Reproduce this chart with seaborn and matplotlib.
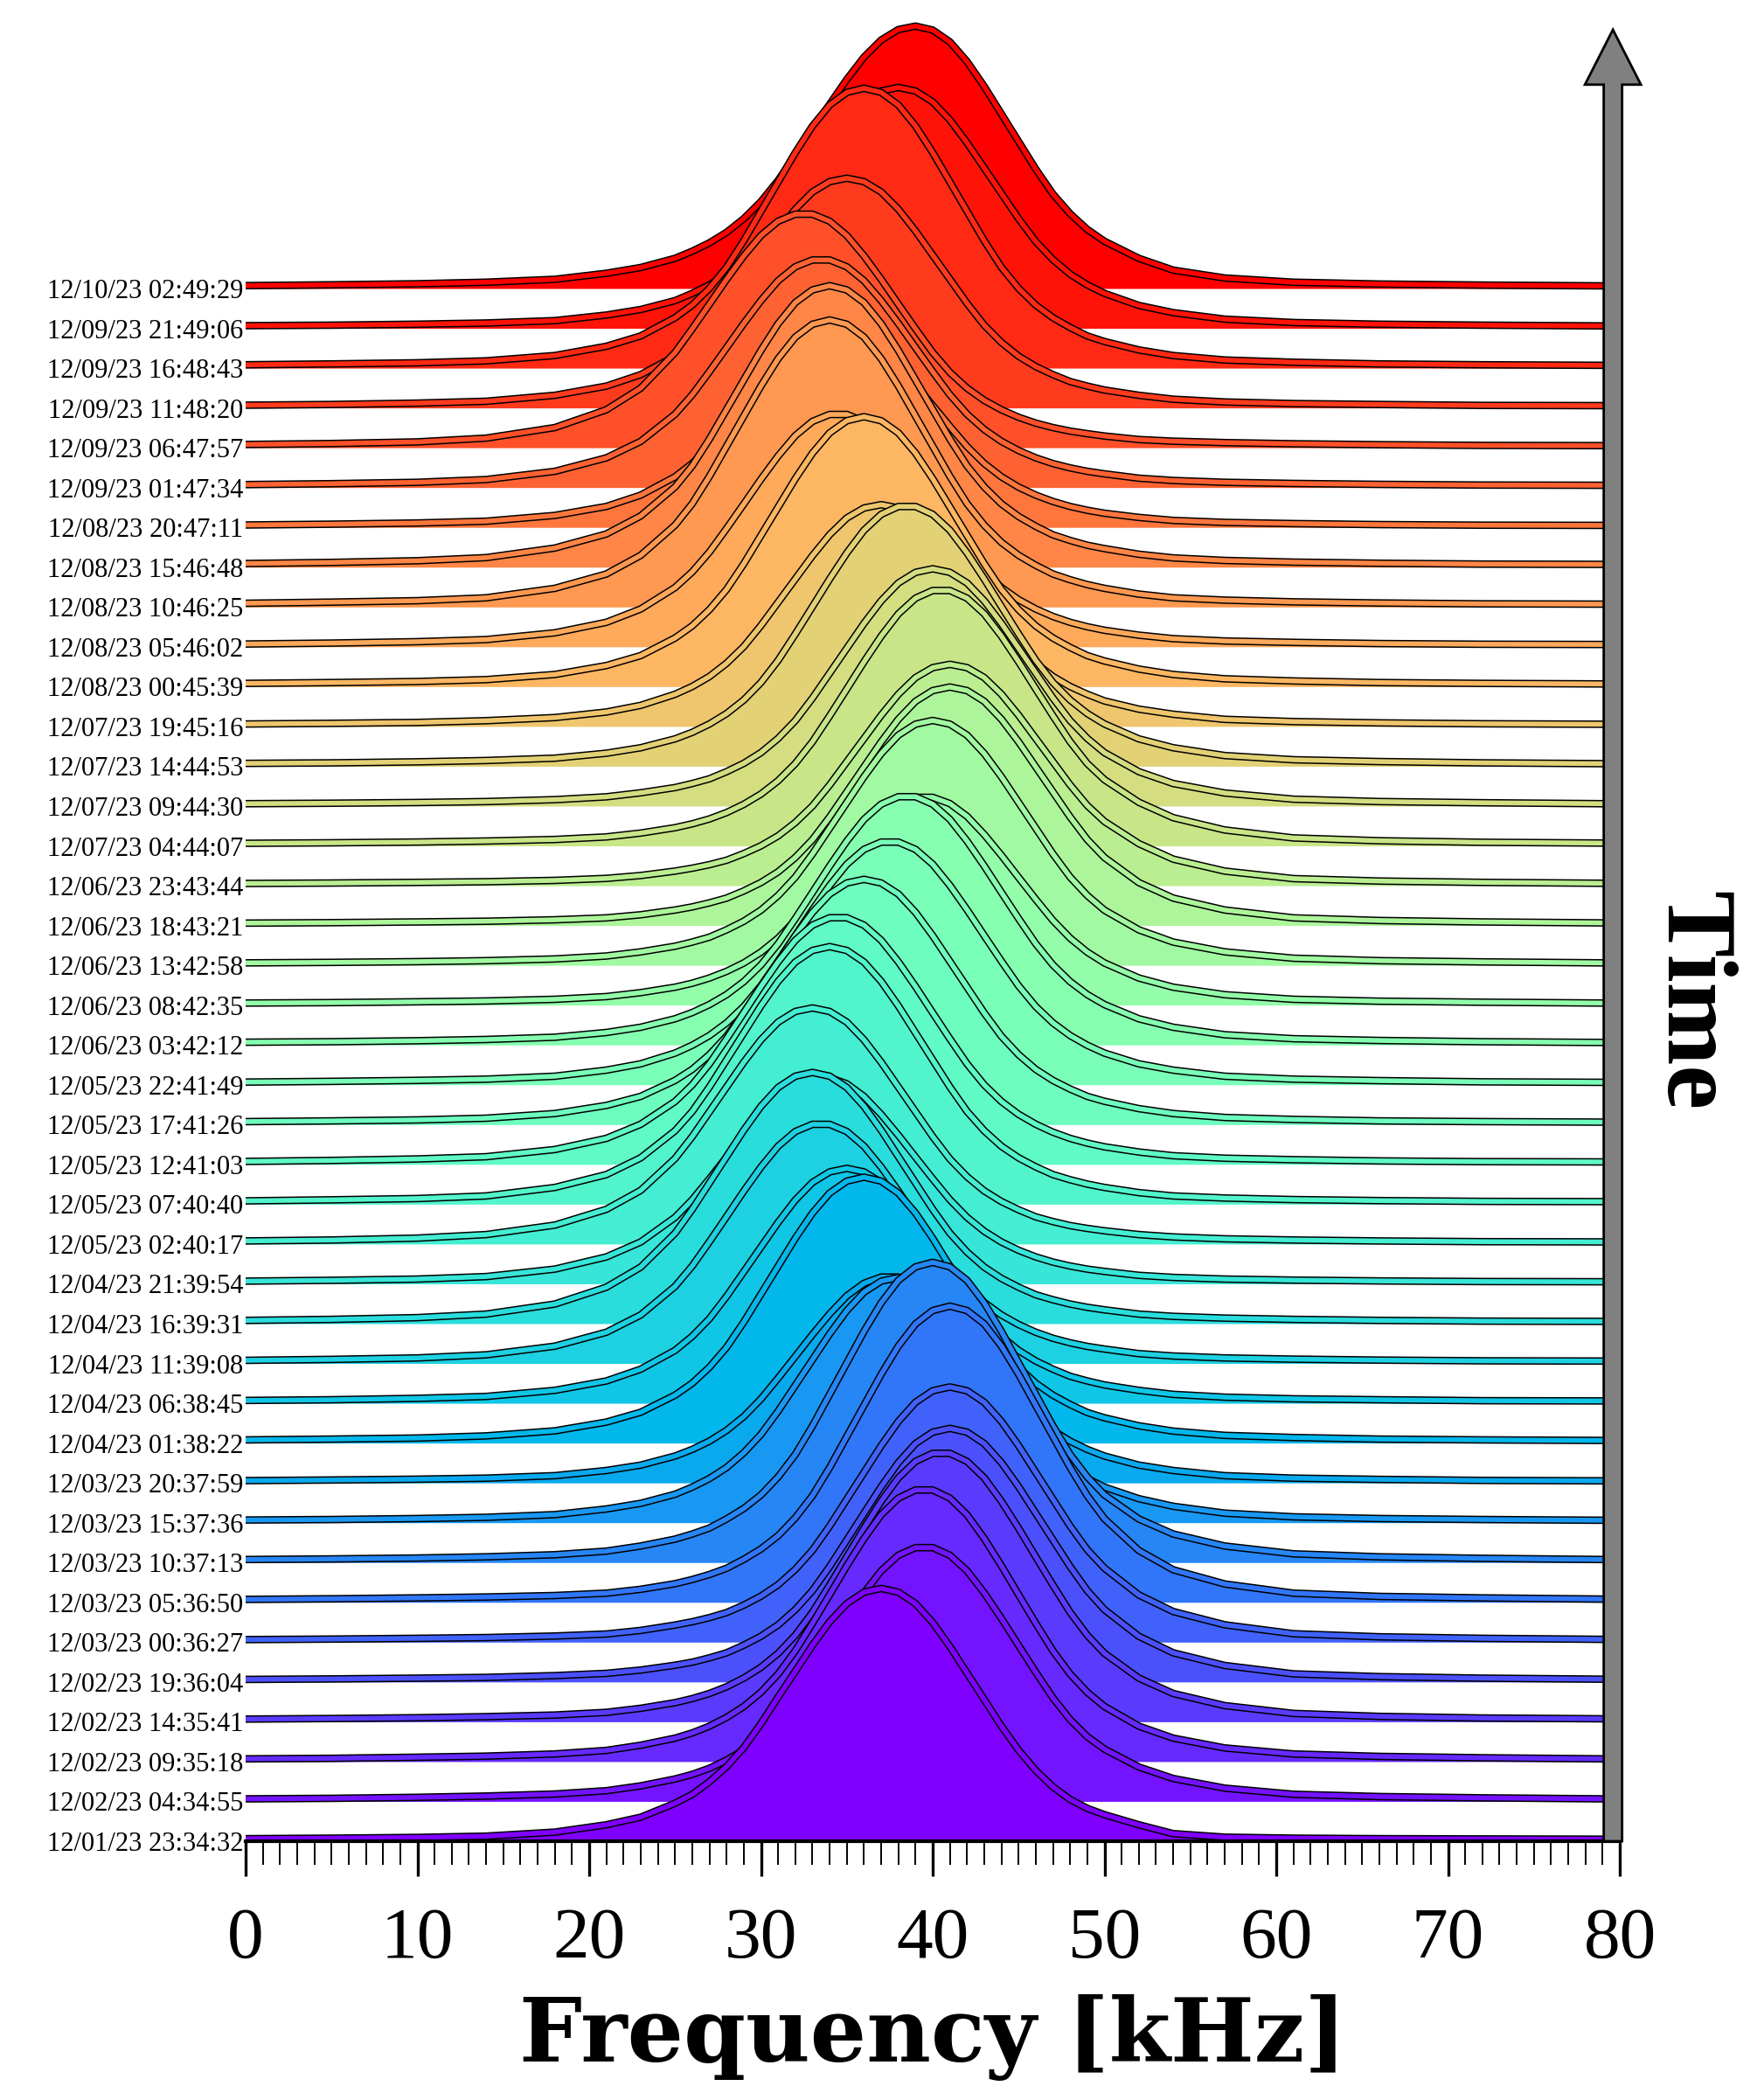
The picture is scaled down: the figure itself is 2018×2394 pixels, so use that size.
import numpy as np
import pandas as pd
import matplotlib
matplotlib.use("Agg")
import matplotlib.pyplot as plt
import matplotlib.patheffects as pe
from matplotlib.ticker import MultipleLocator
import seaborn as sns

# ---------------- data ----------------
freq_khz = [0, 5, 10, 14, 18, 21, 23, 25,
            26, 27, 28, 29, 30, 31, 32, 33, 34, 35, 36, 37, 38, 39, 40, 41, 42, 43,
            44, 45, 46, 47, 48, 49, 50,
            52, 54, 57, 61, 66, 72, 79]

timestamps = [
    "12/01/23 23:34:32", "12/02/23 04:34:55", "12/02/23 09:35:18", "12/02/23 14:35:41",
    "12/02/23 19:36:04", "12/03/23 00:36:27", "12/03/23 05:36:50", "12/03/23 10:37:13",
    "12/03/23 15:37:36", "12/03/23 20:37:59", "12/04/23 01:38:22", "12/04/23 06:38:45",
    "12/04/23 11:39:08", "12/04/23 16:39:31", "12/04/23 21:39:54", "12/05/23 02:40:17",
    "12/05/23 07:40:40", "12/05/23 12:41:03", "12/05/23 17:41:26", "12/05/23 22:41:49",
    "12/06/23 03:42:12", "12/06/23 08:42:35", "12/06/23 13:42:58", "12/06/23 18:43:21",
    "12/06/23 23:43:44", "12/07/23 04:44:07", "12/07/23 09:44:30", "12/07/23 14:44:53",
    "12/07/23 19:45:16", "12/08/23 00:45:39", "12/08/23 05:46:02", "12/08/23 10:46:25",
    "12/08/23 15:46:48", "12/08/23 20:47:11", "12/09/23 01:47:34", "12/09/23 06:47:57",
    "12/09/23 11:48:20", "12/09/23 16:48:43", "12/09/23 21:49:06", "12/10/23 02:49:29",
]

# peak level of each spectrum (in units of the ridge spacing)
peak_level = [6.35, 6.40, 6.85, 6.77, 6.37, 6.41, 7.44, 7.54, 6.16, 5.19,
              6.68, 5.90, 6.03, 6.31, 5.20, 5.93, 6.47, 6.22, 6.16, 6.12,
              6.26, 5.24, 6.15, 5.99, 5.56, 6.44, 5.96, 6.55, 5.57, 6.78,
              5.86, 7.21, 7.07, 5.00, 5.74, 5.89, 5.77, 7.03, 6.05, 6.59]

# normalised spectra (1 = peak), sampled at freq_khz, oldest first
profiles = [
    # 12/01 23:34
    [0.010, 0.012, 0.015, 0.020, 0.036, 0.065, 0.095, 0.150, 0.185, 0.235, 0.295, 0.370, 0.465, 0.570, 0.672, 0.775, 0.868, 0.940, 0.985, 1.000, 0.985, 0.940, 0.865, 0.770, 0.665, 0.560, 0.455, 0.360, 0.280, 0.215, 0.165, 0.130, 0.105, 0.065, 0.030, 0.016, 0.012, 0.010, 0.009, 0.008],
    # 12/02 04:34
    [0.010, 0.012, 0.016, 0.021, 0.029, 0.042, 0.061, 0.088, 0.106, 0.130, 0.162, 0.202, 0.254, 0.321, 0.406, 0.507, 0.612, 0.718, 0.818, 0.905, 0.966, 0.996, 0.996, 0.966, 0.905, 0.818, 0.718, 0.612, 0.507, 0.406, 0.321, 0.254, 0.205, 0.135, 0.090, 0.052, 0.028, 0.019, 0.014, 0.010],
    # 12/02 09:35
    [0.010, 0.012, 0.016, 0.020, 0.028, 0.041, 0.060, 0.086, 0.105, 0.130, 0.162, 0.202, 0.254, 0.321, 0.406, 0.507, 0.612, 0.718, 0.818, 0.905, 0.966, 0.996, 0.996, 0.966, 0.905, 0.818, 0.718, 0.612, 0.507, 0.406, 0.321, 0.254, 0.202, 0.130, 0.086, 0.050, 0.028, 0.019, 0.014, 0.010],
    # 12/02 14:35
    [0.010, 0.012, 0.015, 0.019, 0.025, 0.035, 0.050, 0.071, 0.086, 0.105, 0.130, 0.162, 0.202, 0.254, 0.321, 0.406, 0.507, 0.612, 0.718, 0.818, 0.905, 0.966, 0.996, 0.996, 0.966, 0.905, 0.818, 0.718, 0.612, 0.507, 0.406, 0.321, 0.254, 0.162, 0.105, 0.060, 0.031, 0.020, 0.014, 0.011],
    # 12/02 19:36
    [0.010, 0.012, 0.015, 0.018, 0.025, 0.034, 0.047, 0.066, 0.078, 0.095, 0.115, 0.145, 0.180, 0.225, 0.285, 0.360, 0.455, 0.560, 0.665, 0.770, 0.865, 0.940, 0.985, 1.000, 0.985, 0.940, 0.865, 0.770, 0.665, 0.560, 0.455, 0.360, 0.285, 0.180, 0.115, 0.065, 0.032, 0.021, 0.015, 0.011],
    # 12/03 00:36
    [0.010, 0.012, 0.015, 0.018, 0.024, 0.032, 0.046, 0.067, 0.080, 0.096, 0.116, 0.145, 0.180, 0.225, 0.285, 0.360, 0.455, 0.560, 0.665, 0.770, 0.865, 0.940, 0.985, 1.000, 0.985, 0.940, 0.865, 0.770, 0.665, 0.560, 0.455, 0.362, 0.290, 0.185, 0.120, 0.068, 0.033, 0.021, 0.015, 0.011],
    # 12/03 05:36
    [0.010, 0.012, 0.015, 0.018, 0.023, 0.031, 0.044, 0.063, 0.077, 0.094, 0.115, 0.145, 0.180, 0.225, 0.285, 0.360, 0.455, 0.560, 0.665, 0.770, 0.865, 0.940, 0.985, 1.000, 0.985, 0.940, 0.865, 0.770, 0.665, 0.560, 0.455, 0.360, 0.282, 0.175, 0.110, 0.062, 0.031, 0.020, 0.015, 0.011],
    # 12/03 10:37
    [0.010, 0.012, 0.015, 0.019, 0.026, 0.038, 0.055, 0.078, 0.095, 0.115, 0.145, 0.180, 0.225, 0.285, 0.360, 0.455, 0.560, 0.665, 0.770, 0.865, 0.940, 0.985, 1.000, 0.985, 0.940, 0.865, 0.770, 0.665, 0.560, 0.455, 0.360, 0.285, 0.225, 0.145, 0.095, 0.055, 0.029, 0.019, 0.014, 0.010],
    # 12/03 15:37
    [0.011, 0.013, 0.017, 0.022, 0.033, 0.056, 0.079, 0.116, 0.145, 0.180, 0.225, 0.285, 0.360, 0.455, 0.560, 0.665, 0.770, 0.865, 0.940, 0.985, 1.000, 0.985, 0.940, 0.865, 0.770, 0.665, 0.560, 0.455, 0.360, 0.285, 0.225, 0.180, 0.145, 0.098, 0.067, 0.039, 0.024, 0.017, 0.013, 0.010],
    # 12/03 20:37
    [0.011, 0.014, 0.018, 0.023, 0.035, 0.060, 0.086, 0.130, 0.162, 0.202, 0.254, 0.321, 0.406, 0.507, 0.612, 0.718, 0.818, 0.905, 0.966, 0.996, 0.996, 0.966, 0.905, 0.818, 0.718, 0.612, 0.507, 0.406, 0.321, 0.254, 0.202, 0.162, 0.130, 0.086, 0.060, 0.035, 0.023, 0.017, 0.012, 0.010],
    # 12/04 01:38
    [0.012, 0.015, 0.019, 0.027, 0.046, 0.079, 0.116, 0.180, 0.225, 0.285, 0.360, 0.455, 0.560, 0.665, 0.770, 0.865, 0.940, 0.985, 1.000, 0.985, 0.940, 0.865, 0.770, 0.665, 0.560, 0.455, 0.360, 0.285, 0.225, 0.180, 0.145, 0.115, 0.095, 0.065, 0.045, 0.029, 0.021, 0.015, 0.012, 0.010],
    # 12/04 06:38
    [0.012, 0.015, 0.021, 0.029, 0.055, 0.095, 0.145, 0.225, 0.285, 0.360, 0.455, 0.560, 0.665, 0.770, 0.865, 0.940, 0.985, 1.000, 0.985, 0.940, 0.865, 0.770, 0.665, 0.560, 0.455, 0.360, 0.285, 0.225, 0.180, 0.145, 0.115, 0.095, 0.078, 0.055, 0.038, 0.026, 0.019, 0.015, 0.011, 0.010],
    # 12/04 11:39
    [0.013, 0.017, 0.023, 0.036, 0.072, 0.130, 0.202, 0.321, 0.406, 0.507, 0.612, 0.718, 0.818, 0.905, 0.966, 0.996, 0.996, 0.966, 0.905, 0.818, 0.718, 0.612, 0.507, 0.406, 0.321, 0.254, 0.202, 0.162, 0.130, 0.105, 0.086, 0.071, 0.060, 0.041, 0.031, 0.023, 0.018, 0.014, 0.011, 0.010],
    # 12/04 16:39
    [0.013, 0.017, 0.024, 0.038, 0.078, 0.145, 0.225, 0.360, 0.455, 0.560, 0.665, 0.770, 0.865, 0.940, 0.985, 1.000, 0.985, 0.940, 0.865, 0.770, 0.665, 0.560, 0.455, 0.360, 0.285, 0.225, 0.180, 0.145, 0.115, 0.095, 0.078, 0.065, 0.055, 0.038, 0.029, 0.022, 0.017, 0.013, 0.010, 0.009],
    # 12/04 21:39
    [0.013, 0.017, 0.023, 0.035, 0.071, 0.130, 0.202, 0.321, 0.406, 0.507, 0.612, 0.718, 0.818, 0.905, 0.966, 0.996, 0.996, 0.966, 0.905, 0.818, 0.718, 0.612, 0.507, 0.406, 0.321, 0.254, 0.202, 0.162, 0.130, 0.105, 0.086, 0.071, 0.060, 0.041, 0.031, 0.023, 0.018, 0.014, 0.011, 0.010],
    # 12/05 02:40
    [0.013, 0.017, 0.025, 0.040, 0.080, 0.147, 0.227, 0.362, 0.455, 0.560, 0.665, 0.770, 0.865, 0.940, 0.985, 1.000, 0.985, 0.940, 0.865, 0.770, 0.665, 0.560, 0.455, 0.360, 0.285, 0.225, 0.180, 0.145, 0.115, 0.095, 0.078, 0.066, 0.056, 0.040, 0.030, 0.022, 0.017, 0.013, 0.010, 0.009],
    # 12/05 07:40
    [0.013, 0.017, 0.022, 0.032, 0.065, 0.115, 0.180, 0.285, 0.360, 0.455, 0.560, 0.665, 0.770, 0.865, 0.940, 0.985, 1.000, 0.985, 0.940, 0.865, 0.770, 0.665, 0.560, 0.455, 0.360, 0.285, 0.225, 0.180, 0.145, 0.115, 0.095, 0.078, 0.065, 0.045, 0.032, 0.024, 0.018, 0.014, 0.011, 0.010],
    # 12/05 12:41
    [0.012, 0.016, 0.022, 0.031, 0.060, 0.105, 0.162, 0.254, 0.321, 0.406, 0.507, 0.612, 0.718, 0.818, 0.905, 0.966, 0.996, 0.996, 0.966, 0.905, 0.818, 0.718, 0.612, 0.507, 0.406, 0.321, 0.254, 0.202, 0.162, 0.130, 0.105, 0.086, 0.071, 0.050, 0.035, 0.025, 0.019, 0.014, 0.011, 0.010],
    # 12/05 17:41
    [0.012, 0.015, 0.019, 0.026, 0.045, 0.078, 0.115, 0.180, 0.225, 0.285, 0.360, 0.455, 0.560, 0.665, 0.770, 0.865, 0.940, 0.985, 1.000, 0.985, 0.940, 0.865, 0.770, 0.665, 0.560, 0.455, 0.360, 0.285, 0.225, 0.180, 0.145, 0.115, 0.095, 0.065, 0.045, 0.029, 0.021, 0.015, 0.012, 0.010],
    # 12/05 22:41
    [0.011, 0.014, 0.018, 0.023, 0.035, 0.060, 0.086, 0.130, 0.162, 0.202, 0.254, 0.321, 0.406, 0.507, 0.612, 0.718, 0.818, 0.905, 0.966, 0.996, 0.996, 0.966, 0.905, 0.818, 0.718, 0.612, 0.507, 0.406, 0.321, 0.254, 0.202, 0.162, 0.130, 0.086, 0.060, 0.035, 0.023, 0.017, 0.012, 0.010],
    # 12/06 03:42
    [0.011, 0.013, 0.017, 0.022, 0.031, 0.050, 0.071, 0.105, 0.130, 0.162, 0.202, 0.254, 0.321, 0.406, 0.507, 0.612, 0.718, 0.818, 0.905, 0.966, 0.996, 0.996, 0.966, 0.905, 0.818, 0.718, 0.612, 0.507, 0.406, 0.321, 0.254, 0.202, 0.162, 0.105, 0.071, 0.041, 0.025, 0.018, 0.013, 0.010],
    # 12/06 08:42
    [0.010, 0.012, 0.016, 0.020, 0.028, 0.041, 0.060, 0.086, 0.105, 0.130, 0.162, 0.202, 0.254, 0.321, 0.406, 0.507, 0.612, 0.718, 0.818, 0.905, 0.966, 0.996, 0.996, 0.966, 0.905, 0.818, 0.718, 0.612, 0.507, 0.406, 0.321, 0.254, 0.202, 0.130, 0.086, 0.050, 0.028, 0.019, 0.014, 0.010],
    # 12/06 13:42
    [0.010, 0.012, 0.015, 0.019, 0.026, 0.038, 0.055, 0.078, 0.095, 0.115, 0.145, 0.180, 0.225, 0.285, 0.360, 0.455, 0.560, 0.665, 0.770, 0.865, 0.940, 0.985, 1.000, 0.985, 0.940, 0.865, 0.770, 0.665, 0.560, 0.455, 0.360, 0.285, 0.225, 0.145, 0.095, 0.055, 0.029, 0.019, 0.014, 0.010],
    # 12/06 18:43
    [0.010, 0.012, 0.015, 0.018, 0.024, 0.032, 0.045, 0.065, 0.078, 0.095, 0.115, 0.145, 0.180, 0.225, 0.285, 0.360, 0.455, 0.560, 0.665, 0.770, 0.865, 0.940, 0.985, 1.000, 0.985, 0.940, 0.865, 0.770, 0.665, 0.560, 0.455, 0.360, 0.285, 0.180, 0.115, 0.065, 0.032, 0.021, 0.015, 0.011],
    # 12/06 23:43
    [0.010, 0.012, 0.015, 0.018, 0.024, 0.033, 0.046, 0.066, 0.079, 0.095, 0.115, 0.145, 0.180, 0.225, 0.285, 0.360, 0.455, 0.560, 0.665, 0.770, 0.865, 0.940, 0.985, 1.000, 0.985, 0.940, 0.865, 0.770, 0.665, 0.560, 0.455, 0.362, 0.290, 0.190, 0.120, 0.066, 0.032, 0.021, 0.015, 0.011],
    # 12/07 04:44
    [0.010, 0.012, 0.015, 0.019, 0.025, 0.035, 0.050, 0.071, 0.086, 0.105, 0.130, 0.162, 0.202, 0.254, 0.321, 0.406, 0.507, 0.612, 0.718, 0.818, 0.905, 0.966, 0.996, 0.996, 0.966, 0.905, 0.818, 0.718, 0.612, 0.507, 0.406, 0.321, 0.258, 0.170, 0.110, 0.062, 0.031, 0.020, 0.014, 0.011],
    # 12/07 09:44
    [0.010, 0.012, 0.015, 0.019, 0.027, 0.039, 0.056, 0.078, 0.095, 0.115, 0.145, 0.180, 0.225, 0.285, 0.360, 0.455, 0.560, 0.665, 0.770, 0.865, 0.940, 0.985, 1.000, 0.985, 0.940, 0.865, 0.770, 0.665, 0.560, 0.455, 0.360, 0.285, 0.225, 0.145, 0.095, 0.055, 0.029, 0.019, 0.014, 0.010],
    # 12/07 14:44
    [0.011, 0.013, 0.017, 0.022, 0.031, 0.050, 0.071, 0.105, 0.130, 0.162, 0.202, 0.254, 0.321, 0.406, 0.507, 0.612, 0.718, 0.818, 0.905, 0.966, 0.996, 0.996, 0.966, 0.905, 0.818, 0.718, 0.612, 0.507, 0.406, 0.321, 0.254, 0.202, 0.162, 0.105, 0.071, 0.041, 0.025, 0.018, 0.013, 0.010],
    # 12/07 19:45
    [0.011, 0.014, 0.018, 0.026, 0.040, 0.065, 0.095, 0.145, 0.180, 0.225, 0.285, 0.360, 0.455, 0.560, 0.665, 0.770, 0.865, 0.940, 0.985, 1.000, 0.985, 0.940, 0.865, 0.770, 0.665, 0.560, 0.455, 0.360, 0.285, 0.225, 0.180, 0.145, 0.115, 0.078, 0.055, 0.032, 0.022, 0.016, 0.012, 0.010],
    # 12/08 00:45
    [0.012, 0.015, 0.019, 0.026, 0.045, 0.078, 0.115, 0.180, 0.225, 0.285, 0.360, 0.455, 0.560, 0.665, 0.770, 0.865, 0.940, 0.985, 1.000, 0.985, 0.940, 0.865, 0.770, 0.665, 0.560, 0.455, 0.360, 0.285, 0.225, 0.180, 0.145, 0.115, 0.095, 0.065, 0.045, 0.029, 0.021, 0.015, 0.012, 0.010],
    # 12/08 05:46
    [0.012, 0.016, 0.022, 0.031, 0.060, 0.105, 0.162, 0.254, 0.321, 0.406, 0.507, 0.612, 0.718, 0.818, 0.905, 0.966, 0.996, 0.996, 0.966, 0.905, 0.818, 0.718, 0.612, 0.507, 0.406, 0.321, 0.254, 0.202, 0.162, 0.130, 0.105, 0.086, 0.071, 0.050, 0.035, 0.025, 0.019, 0.014, 0.011, 0.010],
    # 12/08 10:46
    [0.013, 0.017, 0.022, 0.032, 0.065, 0.115, 0.180, 0.285, 0.360, 0.455, 0.560, 0.665, 0.770, 0.865, 0.940, 0.985, 1.000, 0.985, 0.940, 0.865, 0.770, 0.665, 0.560, 0.455, 0.360, 0.285, 0.225, 0.180, 0.145, 0.115, 0.095, 0.078, 0.065, 0.045, 0.032, 0.024, 0.018, 0.014, 0.011, 0.010],
    # 12/08 15:46
    [0.013, 0.017, 0.023, 0.034, 0.068, 0.118, 0.182, 0.285, 0.360, 0.455, 0.560, 0.665, 0.770, 0.865, 0.940, 0.985, 1.000, 0.985, 0.940, 0.865, 0.770, 0.665, 0.560, 0.455, 0.360, 0.285, 0.225, 0.180, 0.145, 0.115, 0.095, 0.078, 0.066, 0.046, 0.033, 0.024, 0.018, 0.014, 0.011, 0.010],
    # 12/08 20:47
    [0.012, 0.016, 0.022, 0.031, 0.060, 0.105, 0.162, 0.254, 0.321, 0.406, 0.507, 0.612, 0.718, 0.818, 0.905, 0.966, 0.996, 0.996, 0.966, 0.905, 0.818, 0.718, 0.612, 0.507, 0.406, 0.321, 0.254, 0.202, 0.162, 0.130, 0.105, 0.086, 0.071, 0.050, 0.035, 0.025, 0.019, 0.014, 0.011, 0.010],
    # 12/09 01:47
    [0.013, 0.017, 0.023, 0.035, 0.071, 0.130, 0.202, 0.321, 0.406, 0.507, 0.612, 0.718, 0.818, 0.905, 0.966, 0.996, 0.996, 0.966, 0.905, 0.818, 0.718, 0.612, 0.507, 0.406, 0.321, 0.254, 0.202, 0.162, 0.130, 0.105, 0.086, 0.071, 0.060, 0.041, 0.031, 0.023, 0.018, 0.014, 0.011, 0.010],
    # 12/09 06:47
    [0.014, 0.018, 0.025, 0.041, 0.086, 0.162, 0.254, 0.406, 0.507, 0.612, 0.718, 0.818, 0.905, 0.966, 0.996, 0.996, 0.966, 0.905, 0.818, 0.718, 0.612, 0.507, 0.406, 0.321, 0.254, 0.202, 0.162, 0.130, 0.105, 0.086, 0.071, 0.060, 0.050, 0.035, 0.028, 0.022, 0.017, 0.013, 0.010, 0.009],
    # 12/09 11:48
    [0.012, 0.015, 0.021, 0.029, 0.055, 0.095, 0.145, 0.225, 0.285, 0.360, 0.455, 0.560, 0.665, 0.770, 0.865, 0.940, 0.985, 1.000, 0.985, 0.940, 0.865, 0.770, 0.665, 0.560, 0.455, 0.360, 0.285, 0.225, 0.180, 0.145, 0.115, 0.095, 0.078, 0.055, 0.038, 0.026, 0.019, 0.015, 0.011, 0.010],
    # 12/09 16:48
    [0.012, 0.015, 0.019, 0.026, 0.045, 0.078, 0.115, 0.180, 0.225, 0.285, 0.360, 0.455, 0.560, 0.665, 0.770, 0.865, 0.940, 0.985, 1.000, 0.985, 0.940, 0.865, 0.770, 0.665, 0.560, 0.455, 0.360, 0.285, 0.225, 0.180, 0.145, 0.115, 0.095, 0.065, 0.045, 0.029, 0.021, 0.015, 0.012, 0.010],
    # 12/09 21:49
    [0.011, 0.013, 0.017, 0.022, 0.032, 0.055, 0.078, 0.115, 0.145, 0.180, 0.225, 0.285, 0.360, 0.455, 0.560, 0.665, 0.770, 0.865, 0.940, 0.985, 1.000, 0.985, 0.940, 0.865, 0.770, 0.665, 0.560, 0.455, 0.360, 0.285, 0.225, 0.180, 0.145, 0.095, 0.065, 0.038, 0.024, 0.017, 0.013, 0.010],
    # 12/10 02:49
    [0.011, 0.014, 0.018, 0.024, 0.035, 0.058, 0.080, 0.115, 0.142, 0.174, 0.214, 0.266, 0.331, 0.412, 0.506, 0.604, 0.702, 0.797, 0.882, 0.947, 0.987, 1.000, 0.985, 0.940, 0.865, 0.770, 0.665, 0.560, 0.455, 0.360, 0.285, 0.225, 0.180, 0.115, 0.070, 0.040, 0.024, 0.017, 0.013, 0.010],
]

# ---------------- style ----------------
sns.set_theme(style="white")
plt.rcParams["font.family"] = ["Liberation Serif", "DejaVu Serif"]
plt.rcParams["text.color"] = "black"
plt.rcParams["xtick.color"] = "black"
plt.rcParams["ytick.color"] = "black"
plt.rcParams["axes.labelcolor"] = "black"

W, H = 2018, 2394
fig = plt.figure(figsize=(W / 100, H / 100), dpi=100)
ax = fig.add_axes([0.13925, 0.1203, 0.7790, 0.87502])

cmap = plt.get_cmap("rainbow")
n = len(timestamps)

for i in range(n):
    color = cmap(i / (n - 1))
    y = i + peak_level[i] * np.asarray(profiles[i])
    df = pd.DataFrame({"freq": freq_khz, "level": y})
    z = 2 * (n - i)
    ax.fill_between(df["freq"], i, df["level"], color=color, lw=0, zorder=z)
    sns.lineplot(data=df, x="freq", y="level", ax=ax, color=color, linewidth=4.0,
                 sort=False, estimator=None, zorder=z + 1,
                 path_effects=[pe.Stroke(linewidth=6.2, foreground="black"), pe.Normal()])

# time arrow
ax.arrow(79.6, 0, 0, 45.5, width=1.07, head_width=3.26, head_length=1.38,
         length_includes_head=True, fc="#808080", ec="black", lw=2.0,
         zorder=300, clip_on=False)

ax.set_xlim(0, 80)
ax.set_ylim(0, 46)
ax.set_xlabel("")
ax.set_ylabel("")

ax.set_yticks(range(n))
ax.set_yticklabels(timestamps)
ax.tick_params(axis="y", length=0, pad=2, labelsize=22, labelcolor="black")

ax.xaxis.set_major_locator(MultipleLocator(10))
ax.xaxis.set_minor_locator(MultipleLocator(1))
ax.tick_params(axis="x", which="major", direction="out", length=29, width=2.4,
               pad=25, labelsize=60, bottom=True, color="black", labelcolor="black")
ax.tick_params(axis="x", which="minor", direction="out", length=19.5, width=1.4,
               bottom=True, color="black")

for s in ["top", "right", "left"]:
    ax.spines[s].set_visible(False)
ax.spines["bottom"].set_linewidth(3.0)
ax.spines["bottom"].set_color("black")
ax.spines["bottom"].set_zorder(250)

fig.text(1067 / W, 1 - 2358 / H, "Frequency [kHz]", ha="center", va="baseline",
         fontsize=73, fontweight="bold", family=["DejaVu Serif"], color="black")
fig.text(1934 / W, 1 - 1145 / H, "Time", ha="center", va="center", rotation=270,
         fontsize=82, fontweight="bold", family=["Liberation Serif"], color="black")

fig.savefig("out.png", dpi=100, facecolor="white")
